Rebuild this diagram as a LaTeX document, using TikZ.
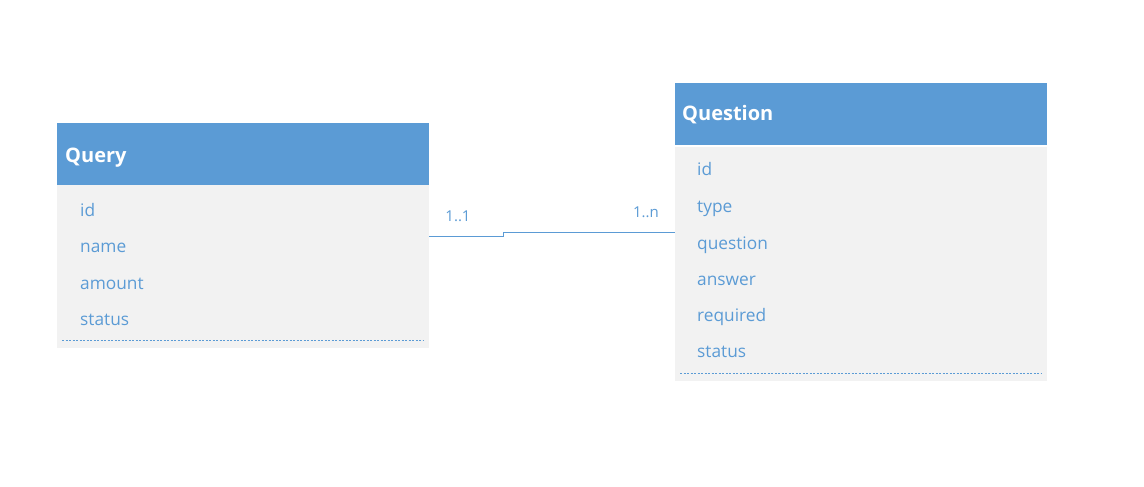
\documentclass[tikz,border=0pt]{standalone}
\usepackage{fontspec}
\setmainfont{Open Sans}
\definecolor{hdr}{HTML}{5B9BD5}
\definecolor{bodyc}{HTML}{F2F2F2}
\definecolor{txt}{HTML}{5B9BD5}
\begin{document}
\begin{tikzpicture}[x=1pt,y=-1pt,
  header/.style={fill=hdr,draw=none,minimum width=372pt,minimum height=62pt,anchor=north west,inner sep=0pt},
  tbody/.style={fill=bodyc,draw=none,minimum width=372pt,anchor=north west,inner sep=0pt},
  title/.style={anchor=base west,inner sep=0pt,text=white,font=\fontsize{20}{24}\selectfont\bfseries},
  field/.style={anchor=base west,inner sep=0pt,text=txt,font=\fontsize{17.3}{20}\selectfont},
  mult/.style={anchor=base,inner sep=0pt,text=txt,font=\fontsize{15}{17}\selectfont},
  sep/.style={draw=txt,dashed,dash pattern=on 2pt off 1.5pt,line width=1pt},
  conn/.style={draw=txt,line width=1.3pt}]
\useasboundingbox (0,0) rectangle (1144,487);
\fill[white] (0,0) rectangle (1144,487);
% Query
\node[header] (qh) at (57,123) {};
\node[tbody,minimum height=163pt] (qb) at (57,185) {};
\node[title] (qt) at (65,162.7) {Query};
\node[field] (q1) at (80,216.7) {id};
\node[field] (q2) at (80,252.7) {name};
\node[field] (q3) at (80,289) {amount};
\node[field] (q4) at (80,325.7) {status};
\coordinate (qs1) at (62,340);
\coordinate (qs2) at (424,340);
\draw[sep] (qs1) -- (qs2);
% Question
\node[header] (uh) at (675,83) {};
\node[tbody,minimum height=234pt] (ub) at (675,147) {};
\node[title] (ut) at (682,121) {Question};
\node[field] (u1) at (697,175.7) {id};
\node[field] (u2) at (697,212.3) {type};
\node[field] (u3) at (697,249) {question};
\node[field] (u4) at (697,285) {answer};
\node[field] (u5) at (697,321.7) {required};
\node[field] (u6) at (697,357.7) {status};
\coordinate (us1) at (680,373);
\coordinate (us2) at (1042,373);
\draw[sep] (us1) -- (us2);
% connector
\draw[conn] ([yshift=30.5pt]qb.east) -- ++(74,0) -- ++(0,-4) -- ([yshift=32pt]ub.west);
\node[mult] (m1) at (458,221) {1..1};
\node[mult] (m2) at (646,217.3) {1..n};
\end{tikzpicture}
\end{document}
